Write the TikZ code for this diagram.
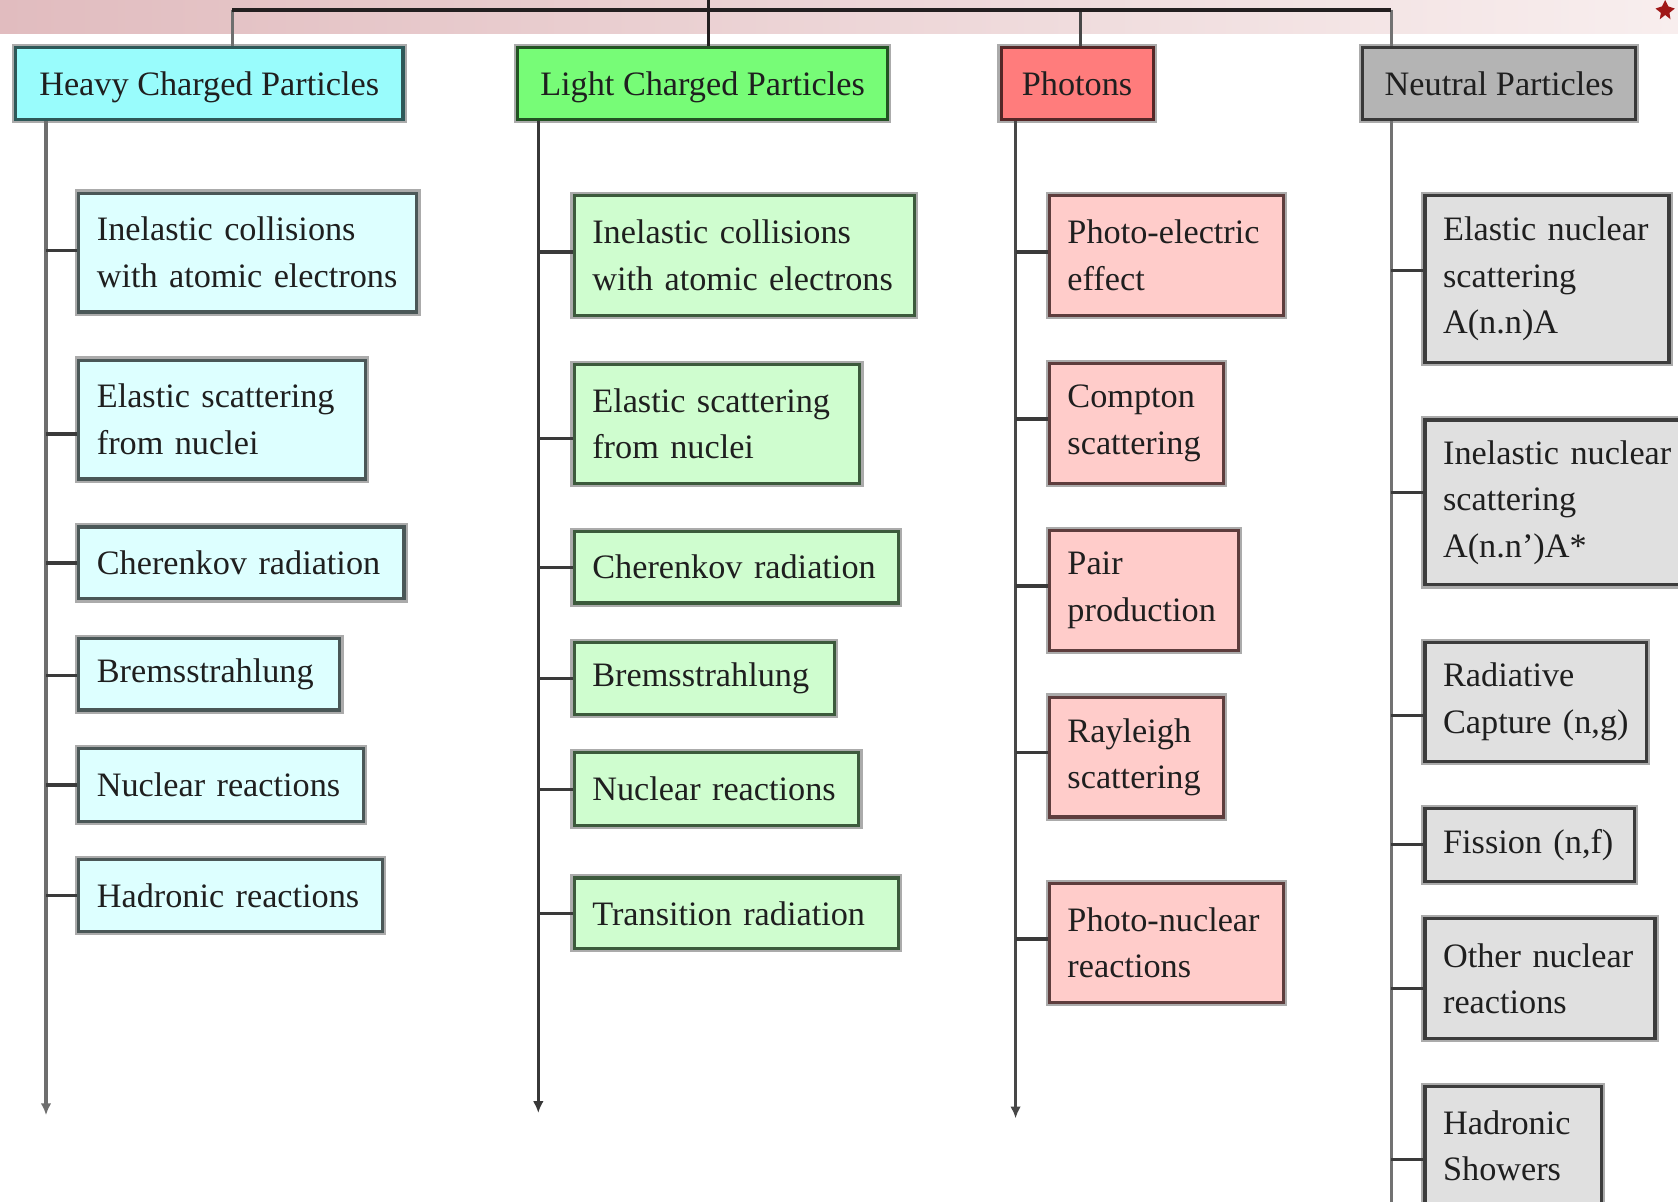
\documentclass[tikz,border=0pt]{standalone}
\usepackage{fontspec}
\setmainfont{Liberation Serif}
\usetikzlibrary{arrows.meta,calc}
\definecolor{txt}{HTML}{1F1F1F}
\definecolor{rim}{HTML}{ABABAB}
\definecolor{bandL}{HTML}{E1BCBF}
\definecolor{bandR}{HTML}{F8EEEE}
\definecolor{hHf}{HTML}{99FCFC}\definecolor{hHd}{HTML}{2E5858}
\definecolor{cHf}{HTML}{DDFFFF}\definecolor{cHd}{HTML}{4A5757}
\definecolor{hLf}{HTML}{77FC77}\definecolor{hLd}{HTML}{235223}
\definecolor{cLf}{HTML}{CFFDCF}\definecolor{cLd}{HTML}{3C5A3C}
\definecolor{hPf}{HTML}{FF7C7C}\definecolor{hPd}{HTML}{552727}
\definecolor{cPf}{HTML}{FFCCCA}\definecolor{cPd}{HTML}{5E3D3D}
\definecolor{hNf}{HTML}{B4B4B4}\definecolor{hNd}{HTML}{383838}
\definecolor{cNf}{HTML}{E0E0E0}\definecolor{cNd}{HTML}{3C3C3C}
\definecolor{trH}{HTML}{6E6E6E}
\definecolor{trL}{HTML}{383838}
\definecolor{trP}{HTML}{474747}
\definecolor{trN}{HTML}{727272}
\definecolor{stubc}{HTML}{3A3A3A}
\definecolor{busc}{HTML}{231F20}
\definecolor{starred}{HTML}{A01818}
\newcommand{\nohyph}{\hyphenpenalty=10000\exhyphenpenalty=10000\hbadness=10000\hfuzz=100pt}
\begin{document}
\begin{tikzpicture}[x=1pt,y=-1pt,
  every node/.style={font=\fontsize{32pt}{43.5pt}\selectfont\nohyph, text=txt},
  framed/.style={rectangle, anchor=north west, line width=3pt,
    preaction={draw=rim, line width=7pt}},
  hdr/.style={framed, inner sep=0pt, align=center, minimum height=67pt,
    text height=29pt, text depth=7pt},
  kid/.style={framed, inner xsep=17pt, inner ysep=0pt, align=left},
  hH/.style={hdr, fill=hHf, draw=hHd},
  hL/.style={hdr, fill=hLf, draw=hLd},
  hP/.style={hdr, fill=hPf, draw=hPd},
  hN/.style={hdr, fill=hNf, draw=hNd},
  cH/.style={kid, fill=cHf, draw=cHd},
  cL/.style={kid, fill=cLf, draw=cLd},
  cP/.style={kid, fill=cPf, draw=cPd},
  cN/.style={kid, fill=cNf, draw=cNd},
  stub/.style={draw=stubc, line width=3pt},
  bus/.style={draw=busc, line width=3.5pt},
  tip/.style={-{Latex[length=11pt,width=10pt]}}
]
\useasboundingbox (0,0) rectangle (1568,1123);
% top band
\shade[left color=bandL, right color=bandR] (0,0) rectangle (1568,31);
\fill[starred] (1556,0) -- (1559,6) -- (1565,8) -- (1560,12) -- (1561,18) -- (1556,14) -- (1551,18) -- (1552,12) -- (1547,8) -- (1553,6) -- cycle;

% headers
\node[hH, minimum width=362pt] (hh) at (13,43) {Heavy Charged Particles};
\node[hL, minimum width=346pt] (hl) at (482,43) {Light Charged Particles};
\node[hP, minimum width=142pt] (hp) at (934,43) {Photons};
\node[hN, minimum width=255pt] (hn) at (1272,43) {Neutral Particles};

% bus
\coordinate (root) at (662,0);
\coordinate (bH) at (217,9);
\coordinate (bP) at (1010,9);
\coordinate (bN) at (1300,9);
\draw[draw=trH, line width=3pt] (bH) -- (bH |- hh.north);
\draw[draw=trP, line width=3pt] (bP) -- (bP |- hp.north);
\draw[draw=trN, line width=3pt] (bN) -- (bN |- hn.north);
\draw[bus] (bH) -- (bN);
\draw[draw=busc, line width=2pt] (root) -- (root |- hl.north);

% trunks
\coordinate (HB) at (43,1042);
\coordinate (LB) at (503,1040);
\coordinate (PB) at (949,1045);
\coordinate (NB) at (1300,1130);
\draw[draw=trH, line width=3pt, tip] (hh.south -| HB) -- (HB);
\draw[draw=trL, line width=3pt, tip] (hl.south -| LB) -- (LB);
\draw[draw=trP, line width=3pt, tip] (hp.south -| PB) -- (PB);
\draw[draw=trN, line width=3pt] (hn.south -| NB) -- (NB);

% Heavy children
\node[cH, text width=282pt, minimum height=111pt] (h1) at (72,179) {Inelastic~collisions\\with~atomic~electrons};
\node[cH, text width=234pt, minimum height=111pt] (h2) at (72,335) {Elastic~scattering\\from~nuclei};
\node[cH, text width=270pt, minimum height=67pt] (h3) at (72,491) {Cherenkov~radiation};
\node[cH, text width=210pt, minimum height=67pt] (h4) at (72,595) {Bremsstrahlung};
\node[cH, text width=232pt, minimum height=68pt] (h5) at (72,698) {Nuclear~reactions};
\node[cH, text width=250pt, minimum height=67pt] (h6) at (72,802) {Hadronic~reactions};

% Light children
\node[cL, text width=284pt, minimum height=112pt] (l1) at (535,181) {Inelastic~collisions\\with~atomic~electrons};
\node[cL, text width=233pt, minimum height=111pt] (l2) at (535,339) {Elastic~scattering\\from~nuclei};
\node[cL, text width=269pt, minimum height=67pt] (l3) at (535,495) {Cherenkov~radiation};
\node[cL, text width=209pt, minimum height=67pt] (l4) at (535,599) {Bremsstrahlung};
\node[cL, text width=232pt, minimum height=68pt] (l5) at (535,702) {Nuclear~reactions};
\node[cL, text width=269pt, minimum height=66pt] (l6) at (535,819) {Transition~radiation};

% Photon children
\node[cP, text width=185pt, minimum height=112pt] (p1) at (979,181) {Photo-electric\\effect};
\node[cP, text width=129pt, minimum height=112pt] (p2) at (979,338) {Compton\\scattering};
\node[cP, text width=143pt, minimum height=112pt] (p3) at (979,494) {Pair\\production};
\node[cP, text width=129pt, minimum height=112pt] (p4) at (979,650) {Rayleigh\\scattering};
\node[cP, text width=185pt, minimum height=111pt] (p5) at (979,824) {Photo-nuclear\\reactions};

% Neutral children
\node[cN, text width=194pt, minimum height=156pt] (n1) at (1330,181) {Elastic~nuclear\\scattering\\A(n.n)A};
\node[cN, text width=216pt, minimum height=154pt] (n2) at (1330,391) {Inelastic~nuclear\\scattering\\A(n.n')A*};
\node[cN, text width=173pt, minimum height=111pt] (n3) at (1330,599) {Radiative\\Capture~(n,g)};
\node[cN, text width=162pt, minimum height=68pt] (n4) at (1330,754) {Fission~(n,f)};
\node[cN, text width=181pt, minimum height=112pt] (n5) at (1330,857) {Other~nuclear\\reactions};
\node[cN, text width=131pt, minimum height=110pt] (n6) at (1330,1014) {Hadronic\\Showers};

% stubs: attachment points on the boxes
\path ([yshift=2pt]h1.west) coordinate (h1s);
\path ([yshift=-13.5pt]h2.west) coordinate (h2s);
\path (h3.west) coordinate (h3s);
\path ([yshift=-1.5pt]h4.west) coordinate (h4s);
\path (h5.west) coordinate (h5s);
\path (h6.west) coordinate (h6s);
\path ([yshift=3pt]l1.west) coordinate (l1s);
\path ([yshift=-13.5pt]l2.west) coordinate (l2s);
\path (l3.west) coordinate (l3s);
\path (l4.west) coordinate (l4s);
\path (l5.west) coordinate (l5s);
\path (l6.west) coordinate (l6s);
\path ([yshift=3pt]p1.west) coordinate (p1s);
\path ([yshift=4pt]p2.west) coordinate (p2s);
\path ([yshift=4pt]p3.west) coordinate (p3s);
\path ([yshift=4pt]p4.west) coordinate (p4s);
\path ([yshift=3.5pt]p5.west) coordinate (p5s);
\path ([yshift=8pt]n1.west) coordinate (n1s);
\path ([yshift=9pt]n2.west) coordinate (n2s);
\path ([yshift=-12.5pt]n3.west) coordinate (n3s);
\path (n4.west) coordinate (n4s);
\path ([yshift=-9pt]n5.west) coordinate (n5s);
\path ([yshift=-13pt]n6.west) coordinate (n6s);

\foreach \s in {h1s,h2s,h3s,h4s,h5s,h6s} \draw[stub] (\s -| HB) -- (\s);
\foreach \s in {l1s,l2s,l3s,l4s,l5s,l6s} \draw[stub] (\s -| LB) -- (\s);
\foreach \s in {p1s,p2s,p3s,p4s,p5s} \draw[stub] (\s -| PB) -- (\s);
\foreach \s in {n1s,n2s,n3s,n4s,n5s,n6s} \draw[stub] (\s -| NB) -- (\s);
\end{tikzpicture}
\end{document}
